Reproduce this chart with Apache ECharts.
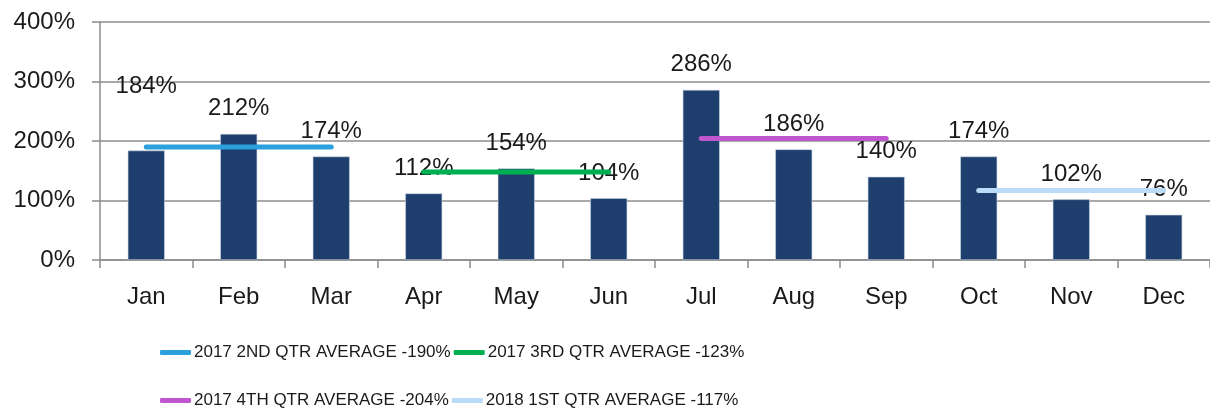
<!DOCTYPE html>
<html>
<head>
<meta charset="utf-8">
<script src="https://cdn.jsdelivr.net/npm/echarts@6/dist/echarts.min.js"></script>
<style>
  html, body { margin: 0; padding: 0; background: #fff; }
  #chart { width: 1210px; height: 412px; }
</style>
</head>
<body>
<div id="chart"></div>
<script>
// 月份与数值
var months = ['Jan', 'Feb', 'Mar', 'Apr', 'May', 'Jun', 'Jul', 'Aug', 'Sep', 'Oct', 'Nov', 'Dec']
var monthValues = [184, 212, 174, 112, 154, 104, 286, 186, 140, 174, 102, 76]
var yTicks = [0, 100, 200, 300, 400]

// 季度平均线 (画在图上的位置)
var q2017_2 = [190, 190, 190, null, null, null, null, null, null, null, null, null]
var q2017_3 = [null, null, null, 148, 148, 148, null, null, null, null, null, null]
var q2017_4 = [null, null, null, null, null, null, 204, 204, 204, null, null, null]
var q2018_1 = [null, null, null, null, null, null, null, null, null, 117, 117, 117]
var avgNames = [
  '2017 2ND QTR AVERAGE -190%',
  '2017 3RD QTR AVERAGE -123%',
  '2017 4TH QTR AVERAGE -204%',
  '2018 1ST QTR AVERAGE -117%'
]
var avgColors = ['#2BA0DD', '#00B050', '#BF56CD', '#BBDCF9']

var labelFont = '"Liberation Sans", Arial, sans-serif'

var chart = echarts.init(document.getElementById('chart'))

function avgLine(name, data, color) {
  return {
    name: name,
    type: 'line',
    data: data,
    symbol: 'none',
    connectNulls: false,
    z: 3,
    lineStyle: { color: color, width: 5, cap: 'round' },
    itemStyle: { color: color },
    silent: true
  }
}

function legendRow(names, top) {
  return {
    data: names,
    left: 155, top: top,
    icon: 'roundRect', itemWidth: 31, itemHeight: 5, itemGap: 3,
    textStyle: { fontFamily: labelFont, fontSize: 17, color: '#1a1a1a', padding: [0, 0, 0, -2] }
  }
}

var option = {
  animation: false,
  grid: { left: 100, right: -2, top: 22, bottom: 152 },
  legend: [
    legendRow([avgNames[0], avgNames[1]], 339),
    legendRow([avgNames[2], avgNames[3]], 387)
  ],
  xAxis: {
    type: 'category',
    data: months,
    axisLine: { lineStyle: { color: '#8c8c8c', width: 1.5 } },
    axisTick: { show: true, length: 8, lineStyle: { color: '#8c8c8c', width: 1.5 } },
    axisLabel: { fontFamily: labelFont, fontSize: 24, color: '#1a1a1a', margin: 25 }
  },
  yAxis: {
    type: 'value',
    min: yTicks[0],
    max: yTicks[yTicks.length - 1],
    interval: 100,
    axisLine: { show: true, lineStyle: { color: '#8c8c8c', width: 1.5 } },
    axisTick: { show: true, length: 8, lineStyle: { color: '#8c8c8c', width: 1.5 } },
    splitLine: { lineStyle: { color: '#8c8c8c', width: 1.5 } },
    axisLabel: { fontFamily: labelFont, fontSize: 24, color: '#1a1a1a', margin: 25, formatter: '{value}%' }
  },
  series: [
    {
      name: 'value',
      type: 'bar',
      barWidth: 37,
      z: 2,
      data: monthValues.map(function (v, i) {
        // Jan 的标签被手动挪高了
        return i === 0 ? { value: v, label: { distance: 52 } } : v
      }),
      itemStyle: { color: '#1E3F6D', borderColor: '#c9d3e0', borderWidth: 0.6 },
      label: {
        show: true,
        position: 'top',
        distance: 13,
        formatter: '{c}%',
        fontFamily: labelFont,
        fontSize: 24,
        color: '#1a1a1a'
      }
    },
    avgLine(avgNames[0], q2017_2, avgColors[0]),
    avgLine(avgNames[1], q2017_3, avgColors[1]),
    avgLine(avgNames[2], q2017_4, avgColors[2]),
    avgLine(avgNames[3], q2018_1, avgColors[3])
  ]
}

chart.setOption(option)
</script>
</body>
</html>
